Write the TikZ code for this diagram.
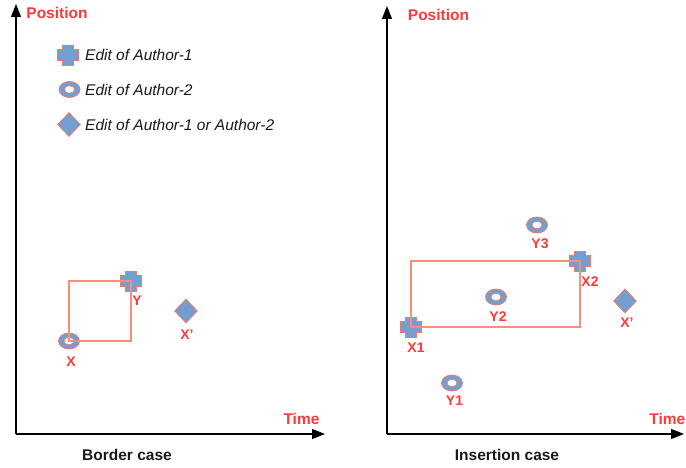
\documentclass[tikz,border=0pt]{standalone}
\usepackage{fontspec}
\setmainfont{Liberation Sans}
\usetikzlibrary{shapes.geometric,arrows.meta}
\definecolor{mblue}{HTML}{729FCF}
\definecolor{medge}{HTML}{F07A68}
\definecolor{lred}{HTML}{FF3838}
\definecolor{rectc}{HTML}{FA8E7A}
\tikzset{
  axisline/.style={line width=1.4pt, -{Triangle[length=13pt,width=10pt]}},
  ringmark/.style={ellipse, minimum width=21pt, minimum height=16pt, inner sep=0pt,
    fill=mblue, draw=medge, line width=0.8pt,
    path picture={\draw[medge, fill=white, line width=0.6pt] (path picture bounding box.center) ellipse (5pt and 3.7pt);}},
  diamark/.style={diamond, minimum width=23pt, minimum height=24pt, inner sep=0pt,
    fill=mblue, draw=medge, line width=0.8pt},
  plusmark/.style={rectangle, minimum width=21pt, minimum height=20pt, inner sep=0pt},
  plusshape/.pic={\draw[fill=mblue, draw=medge, line width=0.8pt]
     (-10.5,-5.5) -- (-5.5,-5.5) -- (-5.5,-10) -- (5.5,-10) -- (5.5,-5.5) -- (10.5,-5.5)
     -- (10.5,5.5) -- (5.5,5.5) -- (5.5,10) -- (-5.5,10) -- (-5.5,5.5) -- (-10.5,5.5) -- cycle;},
  axlabel/.style={text=lred, font=\fontsize{15.5}{18}\selectfont\bfseries, inner sep=0pt},
  ptlabel/.style={text=lred, font=\fontsize{14}{17}\selectfont\bfseries, inner sep=0pt},
  caption/.style={text=black!90, font=\fontsize{15.5}{18}\selectfont\bfseries, inner sep=0pt},
  legtext/.style={text=black!90, font=\fontsize{15.5}{18}\selectfont\itshape, inner sep=0pt, anchor=west},
  boxline/.style={draw=rectc, line width=1.1pt}
}
\begin{document}
\begin{tikzpicture}[x=1pt,y=-1pt]
\useasboundingbox (0,0) rectangle (686,468);
% axes
\coordinate (O1) at (16,434);
\coordinate (P1) at (16,4);
\coordinate (T1) at (325,434);
\coordinate (O2) at (387,434);
\coordinate (P2) at (387,6);
\coordinate (T2) at (684,434);
\draw[axisline] (O1) -- (P1);
\draw[axisline] (O1) -- (T1);
\draw[axisline] (O2) -- (P2);
\draw[axisline] (O2) -- (T2);
\node[axlabel] (pos1) at (57,13) {Position};
\node[axlabel] (pos2) at (438.5,15) {Position};
\node[axlabel] (time1) at (301.5,418.5) {Time};
\node[axlabel, anchor=east] (time2) at (685.5,418.5) {Time};
\node[caption] (cap1) at (127,455) {Border case};
\node[caption] (cap2) at (507,455) {Insertion case};
% legend
\node[plusmark] (lg1) at (68,55) {};
\pic at (lg1) {plusshape};
\node[ringmark] (lg2) at (69.5,89.5) {};
\node[diamark] (lg3) at (69,124.5) {};
\node[legtext] (lt1) at (85,55) {Edit of Author-1};
\node[legtext] (lt2) at (85,89.5) {Edit of Author-2};
\node[legtext] (lt3) at (85,124.5) {Edit of Author-1 or Author-2};
% border case
\node[ringmark] (X) at (69,341) {};
\node[plusmark] (Y) at (131,281) {};
\pic at (Y) {plusshape};
\node[diamark] (Xp) at (186,311) {};
\draw[boxline] (X.center) rectangle (Y.center);
\node[ptlabel] (Xl) at (71,361.5) {X};
\node[ptlabel] (Yl) at (137,301) {Y};
\node[ptlabel] (Xpl) at (187,335) {X’};
% insertion case
\node[plusmark] (X1) at (411,327) {};
\pic at (X1) {plusshape};
\node[plusmark] (X2) at (580,261) {};
\pic at (X2) {plusshape};
\node[ringmark] (Y1) at (452,383) {};
\node[ringmark] (Y2) at (496,297) {};
\node[ringmark] (Y3) at (537,225) {};
\node[diamark] (Xp2) at (625,301) {};
\draw[boxline] (X1.center) rectangle (X2.center);
\node[ptlabel] (X1l) at (416,347.5) {X1};
\node[ptlabel] (X2l) at (590,282) {X2};
\node[ptlabel] (Y1l) at (454.5,401) {Y1};
\node[ptlabel] (Y2l) at (498,317) {Y2};
\node[ptlabel] (Y3l) at (540,244) {Y3};
\node[ptlabel] (Xp2l) at (627,323) {X’};
\end{tikzpicture}
\end{document}
